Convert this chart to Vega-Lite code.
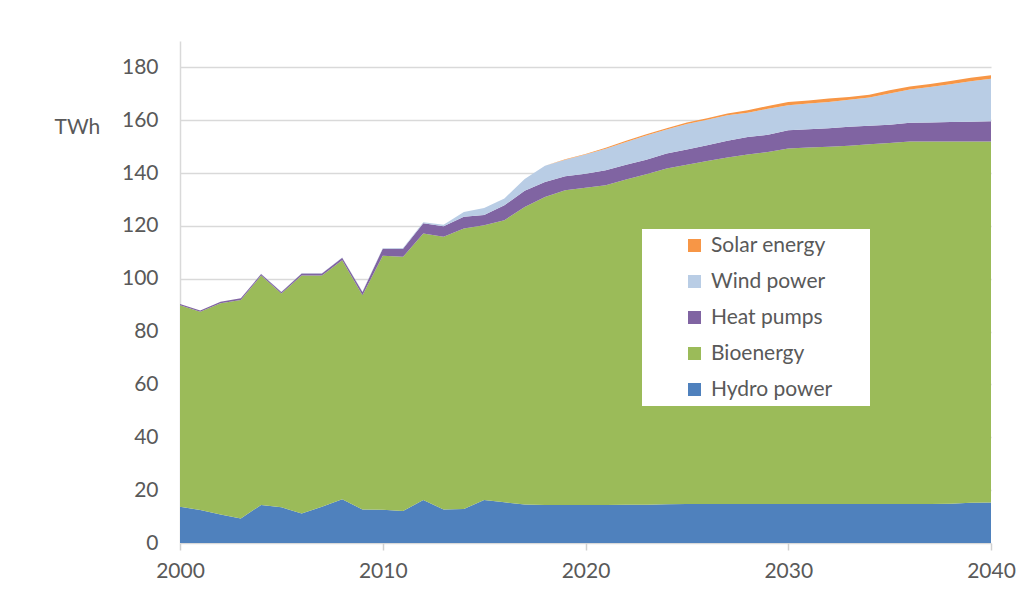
{
  "$schema": "https://vega.github.io/schema/vega-lite/v6.json",
  "width": 811,
  "height": 502,
  "autosize": "none",
  "padding": {"left": 180, "top": 41, "right": 35, "bottom": 56},
  "background": "white",
  "config": {
    "view": {"stroke": null},
    "font": "Lato"
  },
  "data": {
    "values": [
      {"year": 2000, "Hydro power": 13.7, "Bioenergy": 76.3, "Heat pumps": 0.5, "Wind power": 0.0, "Solar energy": 0.0},
      {"year": 2001, "Hydro power": 12.5, "Bioenergy": 75.0, "Heat pumps": 0.5, "Wind power": 0.0, "Solar energy": 0.0},
      {"year": 2002, "Hydro power": 10.8, "Bioenergy": 79.9, "Heat pumps": 0.6, "Wind power": 0.0, "Solar energy": 0.0},
      {"year": 2003, "Hydro power": 9.3, "Bioenergy": 82.7, "Heat pumps": 0.6, "Wind power": 0.0, "Solar energy": 0.0},
      {"year": 2004, "Hydro power": 14.4, "Bioenergy": 86.8, "Heat pumps": 0.6, "Wind power": 0.1, "Solar energy": 0.0},
      {"year": 2005, "Hydro power": 13.5, "Bioenergy": 80.9, "Heat pumps": 0.6, "Wind power": 0.1, "Solar energy": 0.0},
      {"year": 2006, "Hydro power": 11.2, "Bioenergy": 90.0, "Heat pumps": 0.8, "Wind power": 0.1, "Solar energy": 0.0},
      {"year": 2007, "Hydro power": 13.7, "Bioenergy": 87.5, "Heat pumps": 0.8, "Wind power": 0.1, "Solar energy": 0.0},
      {"year": 2008, "Hydro power": 16.6, "Bioenergy": 90.4, "Heat pumps": 1.0, "Wind power": 0.1, "Solar energy": 0.0},
      {"year": 2009, "Hydro power": 12.7, "Bioenergy": 81.1, "Heat pumps": 1.2, "Wind power": 0.2, "Solar energy": 0.0},
      {"year": 2010, "Hydro power": 12.6, "Bioenergy": 96.1, "Heat pumps": 2.7, "Wind power": 0.2, "Solar energy": 0.0},
      {"year": 2011, "Hydro power": 12.1, "Bioenergy": 96.2, "Heat pumps": 3.1, "Wind power": 0.3, "Solar energy": 0.0},
      {"year": 2012, "Hydro power": 16.3, "Bioenergy": 100.8, "Heat pumps": 3.9, "Wind power": 0.4, "Solar energy": 0.0},
      {"year": 2013, "Hydro power": 12.7, "Bioenergy": 103.2, "Heat pumps": 4.0, "Wind power": 0.6, "Solar energy": 0.0},
      {"year": 2014, "Hydro power": 12.9, "Bioenergy": 106.1, "Heat pumps": 4.5, "Wind power": 1.8, "Solar energy": 0.0},
      {"year": 2015, "Hydro power": 16.3, "Bioenergy": 104.0, "Heat pumps": 3.8, "Wind power": 2.7, "Solar energy": 0.0},
      {"year": 2016, "Hydro power": 15.4, "Bioenergy": 106.8, "Heat pumps": 5.6, "Wind power": 2.6, "Solar energy": 0.0},
      {"year": 2017, "Hydro power": 14.6, "Bioenergy": 112.6, "Heat pumps": 6.1, "Wind power": 4.5, "Solar energy": 0.0},
      {"year": 2018, "Hydro power": 14.4, "Bioenergy": 116.6, "Heat pumps": 5.6, "Wind power": 6.2, "Solar energy": 0.0},
      {"year": 2019, "Hydro power": 14.4, "Bioenergy": 119.1, "Heat pumps": 5.3, "Wind power": 6.3, "Solar energy": 0.1},
      {"year": 2020, "Hydro power": 14.4, "Bioenergy": 120.1, "Heat pumps": 5.3, "Wind power": 7.2, "Solar energy": 0.2},
      {"year": 2021, "Hydro power": 14.4, "Bioenergy": 121.0, "Heat pumps": 5.7, "Wind power": 8.1, "Solar energy": 0.4},
      {"year": 2022, "Hydro power": 14.5, "Bioenergy": 123.1, "Heat pumps": 5.6, "Wind power": 8.6, "Solar energy": 0.4},
      {"year": 2023, "Hydro power": 14.5, "Bioenergy": 125.1, "Heat pumps": 5.5, "Wind power": 9.1, "Solar energy": 0.5},
      {"year": 2024, "Hydro power": 14.7, "Bioenergy": 127.0, "Heat pumps": 5.7, "Wind power": 9.1, "Solar energy": 0.5},
      {"year": 2025, "Hydro power": 14.8, "Bioenergy": 128.4, "Heat pumps": 5.7, "Wind power": 9.7, "Solar energy": 0.6},
      {"year": 2026, "Hydro power": 14.8, "Bioenergy": 129.8, "Heat pumps": 5.9, "Wind power": 9.7, "Solar energy": 0.6},
      {"year": 2027, "Hydro power": 14.8, "Bioenergy": 131.1, "Heat pumps": 6.3, "Wind power": 9.7, "Solar energy": 0.7},
      {"year": 2028, "Hydro power": 14.8, "Bioenergy": 132.2, "Heat pumps": 6.7, "Wind power": 9.1, "Solar energy": 1.0},
      {"year": 2029, "Hydro power": 14.8, "Bioenergy": 133.2, "Heat pumps": 6.5, "Wind power": 9.9, "Solar energy": 1.0},
      {"year": 2030, "Hydro power": 14.8, "Bioenergy": 134.5, "Heat pumps": 6.9, "Wind power": 9.5, "Solar energy": 1.2},
      {"year": 2031, "Hydro power": 14.8, "Bioenergy": 134.9, "Heat pumps": 6.9, "Wind power": 9.7, "Solar energy": 1.2},
      {"year": 2032, "Hydro power": 14.8, "Bioenergy": 135.2, "Heat pumps": 7.0, "Wind power": 9.9, "Solar energy": 1.3},
      {"year": 2033, "Hydro power": 14.8, "Bioenergy": 135.6, "Heat pumps": 7.1, "Wind power": 10.3, "Solar energy": 1.0},
      {"year": 2034, "Hydro power": 14.8, "Bioenergy": 136.1, "Heat pumps": 7.0, "Wind power": 10.7, "Solar energy": 1.1},
      {"year": 2035, "Hydro power": 14.8, "Bioenergy": 136.6, "Heat pumps": 6.9, "Wind power": 11.8, "Solar energy": 1.3},
      {"year": 2036, "Hydro power": 14.8, "Bioenergy": 137.2, "Heat pumps": 7.1, "Wind power": 12.5, "Solar energy": 1.2},
      {"year": 2037, "Hydro power": 14.8, "Bioenergy": 137.2, "Heat pumps": 7.2, "Wind power": 13.4, "Solar energy": 1.1},
      {"year": 2038, "Hydro power": 14.9, "Bioenergy": 137.1, "Heat pumps": 7.3, "Wind power": 14.3, "Solar energy": 1.3},
      {"year": 2039, "Hydro power": 15.2, "Bioenergy": 136.8, "Heat pumps": 7.4, "Wind power": 15.4, "Solar energy": 1.3},
      {"year": 2040, "Hydro power": 15.3, "Bioenergy": 136.7, "Heat pumps": 7.6, "Wind power": 16.1, "Solar energy": 1.3}
    ]
  },
  "transform": [
    {"fold": ["Hydro power", "Bioenergy", "Heat pumps", "Wind power", "Solar energy"], "as": ["source", "twh"]},
    {"calculate": "indexof(['Hydro power','Bioenergy','Heat pumps','Wind power','Solar energy'], datum.source)", "as": "stackIndex"}
  ],
  "mark": {"type": "area", "interpolate": "linear", "opacity": 1},
  "encoding": {
    "x": {
      "field": "year",
      "type": "quantitative",
      "scale": {"domain": [2000, 2040], "nice": false, "zero": false},
      "axis": {
        "title": null,
        "values": [2000, 2010, 2020, 2030, 2040],
        "format": "d",
        "grid": false,
        "domain": false,
        "ticks": true,
        "tickSize": 7,
        "tickColor": "#d0d0d0",
        "tickWidth": 1.5,
        "labelFont": "Lato",
        "labelFontSize": 21,
        "labelColor": "#595959",
        "labelPadding": 10,
        "labelFlush": false
      }
    },
    "y": {
      "field": "twh",
      "type": "quantitative",
      "stack": "zero",
      "scale": {"domain": [0, 190], "nice": false},
      "axis": {
        "values": [0, 20, 40, 60, 80, 100, 120, 140, 160, 180],
        "title": "TWh",
        "titleAngle": 0,
        "titleAlign": "left",
        "titleBaseline": "middle",
        "titleX": -126,
        "titleY": 86,
        "titleFont": "Lato",
        "titleFontSize": 21,
        "titleFontWeight": "normal",
        "titleColor": "#595959",
        "grid": true,
        "gridColor": "#d9d9d9",
        "gridWidth": 1.5,
        "domain": true,
        "domainColor": "#d9d9d9",
        "domainWidth": 1.5,
        "ticks": false,
        "labelFont": "Lato",
        "labelFontSize": 21,
        "labelColor": "#595959",
        "labelPadding": 22
      }
    },
    "color": {
      "field": "source",
      "type": "nominal",
      "scale": {
        "domain": ["Solar energy", "Wind power", "Heat pumps", "Bioenergy", "Hydro power"],
        "range": ["#F79646", "#B9CDE5", "#8064A2", "#9BBB59", "#4F81BD"]
      },
      "legend": {
        "title": "\u00a0",
        "titleOrient": "right",
        "titlePadding": 32,
        "titleFontSize": 10,
        "orient": "none",
        "legendX": 462,
        "legendY": 188,
        "fillColor": "white",
        "padding": 6,
        "symbolOffset": 36,
        "symbolType": "square",
        "symbolSize": 169,
        "symbolStrokeWidth": 0,
        "labelFont": "Lato",
        "labelFontSize": 21,
        "labelColor": "#595959",
        "labelOffset": 6,
        "rowPadding": 14
      }
    },
    "order": {"field": "stackIndex", "type": "quantitative", "sort": "ascending"}
  }
}
